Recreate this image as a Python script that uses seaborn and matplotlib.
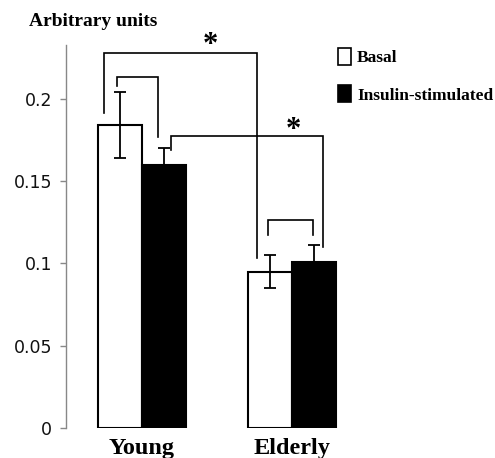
import matplotlib
matplotlib.use("Agg")
import matplotlib.pyplot as plt
from matplotlib.patches import Patch
import seaborn as sns
import pandas as pd

# values
groups = ["Young", "Elderly"]
conditions = ["Basal", "Insulin-stimulated"]
basal = [0.184, 0.095]
insulin = [0.160, 0.101]
basal_err = [0.020, 0.010]
insulin_err = [0.010, 0.010]

df = pd.DataFrame({
    "group": groups * 2,
    "condition": [conditions[0]] * 2 + [conditions[1]] * 2,
    "value": basal + insulin,
})
errs = [basal_err, insulin_err]

serif = "Liberation Serif"

fig = plt.figure(figsize=(4.95, 4.58), dpi=100, facecolor="white")
ax = fig.add_axes([66/495, 30/458, (480-66)/495, 383/458])

sns.barplot(
    data=df, x="group", y="value", hue="condition",
    palette=["white", "black"], saturation=1, width=0.587,
    edgecolor="black", linewidth=1.5, errorbar=None,
    legend=False, ax=ax)

# error bars on top of each bar
for cont, err in zip(ax.containers, errs):
    xs = [b.get_x() + b.get_width() / 2 for b in cont]
    ys = [b.get_height() for b in cont]
    ax.errorbar(xs, ys, yerr=err, fmt="none", ecolor="black",
                elinewidth=1.3, capsize=4, capthick=1.3, zorder=5)

ax.set_xlim(-0.507, 2.253)
ax.set_ylim(0, 0.2327)
ax.set_xlabel("")
ax.set_ylabel("")

for s in ["top", "right", "bottom"]:
    ax.spines[s].set_visible(False)
ax.spines["left"].set_color("#888888")
ax.spines["left"].set_linewidth(1)

ax.set_yticks([0, 0.05, 0.1, 0.15, 0.2])
ax.set_yticklabels(["0", "0.05", "0.1", "0.15", "0.2"])
ax.tick_params(axis="y", length=4.3, color="#888888", width=1, pad=5.8,
               labelsize=12.5, labelcolor="#111111")
ax.tick_params(axis="x", length=0, pad=7.5)
for lab in ax.get_xticklabels():
    lab.set_fontfamily(serif)
    lab.set_fontweight("bold")
    lab.set_fontsize(17.5)

# significance brackets: (x left, y left end, x right, y right end, y top)
brackets = [
    (-0.253, 0.1914, 0.767, 0.1033, 0.2278),
    (0.193, 0.1689, 1.207, 0.1100, 0.1774),
    (-0.167, 0.2078, 0.107, 0.1768, 0.2132),
    (0.840, 0.1172, 1.140, 0.1172, 0.1264),
]
for xl, yl, xr, yr, yt in brackets:
    ax.plot([xl, xl, xr, xr], [yl, yt, yt, yr], color="black", lw=1.2,
            clip_on=False, solid_joinstyle="miter")

stars = [(0.453, 0.2325), (1.007, 0.1808)]
for sx, sy in stars:
    ax.text(sx, sy, "*", ha="center", va="center", fontsize=22,
            fontweight="bold", family=serif, clip_on=False)

fig.text(29/495, 1 - 22/458, "Arbitrary units", ha="left", va="center",
         fontsize=14, fontweight="bold", family=serif)

handles = [Patch(facecolor="white", edgecolor="black", linewidth=1.2),
           Patch(facecolor="black", edgecolor="black", linewidth=1.2)]
ax.legend(handles, conditions, loc="upper left",
          bbox_to_anchor=(338/495, 1 - 48/458), bbox_transform=fig.transFigure,
          frameon=False, handlelength=0.75, handleheight=1.1,
          handletextpad=0.35, labelspacing=1.1, borderpad=0, borderaxespad=0,
          prop={"family": serif, "weight": "bold", "size": 12.5})

fig.savefig("out.png", dpi=100, facecolor="white")
